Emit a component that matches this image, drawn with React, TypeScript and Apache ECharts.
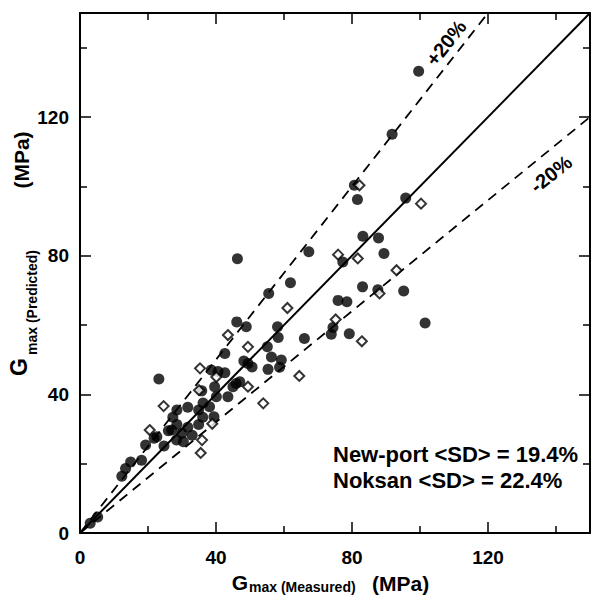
import React, { useEffect, useRef } from 'react';
import * as echarts from 'echarts';

const axisMin = 0;
const axisMax = 150;
const tickInterval = 40;

// Filled circles (New-port)
const newportPoints: [number, number][] = [
  [99.6, 133.2], [91.8, 115.0], [80.7, 100.3], [81.6, 96.2], [95.8, 96.6],
  [83.2, 85.6], [87.8, 85.1], [89.4, 80.6], [67.3, 81.1], [77.3, 78.2],
  [46.3, 79.1], [95.2, 69.8], [101.5, 60.6], [61.9, 72.2], [83.1, 71.0],
  [87.6, 70.2], [55.5, 69.1], [75.9, 67.1], [78.5, 66.7], [46.1, 60.9],
  [48.9, 59.5], [74.4, 59.3], [73.9, 57.3], [79.2, 57.5], [58.1, 59.5],
  [58.3, 56.4], [66.0, 56.1], [55.1, 53.7], [56.3, 50.8], [59.2, 49.9],
  [49.4, 48.9], [48.2, 49.6], [50.6, 47.9], [55.3, 47.2], [58.7, 47.8],
  [42.6, 51.8], [47.0, 43.6], [23.2, 44.4], [38.6, 47.0], [42.6, 46.2],
  [40.6, 46.6], [35.8, 41.0], [39.6, 42.2], [40.1, 39.3], [43.5, 39.3],
  [45.0, 42.2], [45.9, 43.1], [39.4, 33.5],
  [27.3, 33.4], [28.5, 35.5], [31.7, 36.3], [34.9, 35.5], [36.1, 33.4],
  [34.9, 31.3], [31.7, 30.5], [28.5, 31.3],
  [36.2, 37.5], [38.1, 36.4], [30.0, 28.8], [28.4, 26.8], [30.4, 26.3],
  [33.0, 28.2], [26.0, 29.5], [27.0, 29.7], [24.7, 25.1], [19.3, 25.4],
  [21.8, 27.3], [22.6, 27.8], [18.1, 21.0], [14.9, 20.5], [13.4, 18.6],
  [12.3, 16.4], [3.0, 2.8], [5.2, 4.6],
];

// Open diamonds (Noksan)
const noksanPoints: [number, number][] = [
  [82.2, 100.3], [100.3, 95.0], [75.9, 80.3], [81.7, 79.2], [93.1, 75.8],
  [88.1, 69.1], [61.0, 64.9], [75.2, 61.6], [82.9, 55.3], [43.5, 57.1],
  [49.4, 53.7], [64.5, 45.3], [35.3, 47.5], [40.1, 45.0], [49.4, 42.2],
  [35.0, 41.2], [53.9, 37.4], [24.6, 36.6], [38.9, 31.5], [20.5, 29.7],
  [35.9, 26.8], [35.5, 23.1],
];

const equalityLine: [number, number][] = [[0, 0], [150, 150]];
const plus20Line: [number, number][] = [[0, 0], [120, 150]];
const minus20Line: [number, number][] = [[0, 0], [150, 120]];

const plusLabel = '+20%';
const minusLabel = '-20%';
const newportLabel = 'New-port <SD> = 19.4%';
const noksanLabel = 'Noksan <SD> = 22.4%';
const xNameMain = 'G';
const xNameSub = 'max (Measured)';
const xNameUnit = '(MPa)';
const yNameMain = 'G';
const yNameSub = 'max (Predicted)';
const yNameUnit = '(MPa)';

const FONT = "'Liberation Sans', Arial, Helvetica, sans-serif";

function txt(text: string, x: number, y: number, size: number, align: string, vAlign: string, rotation = 0) {
  return {
    type: 'text',
    x,
    y,
    rotation,
    z: 100,
    style: {
      text,
      fill: '#000',
      fontSize: size,
      fontWeight: 'bold',
      fontFamily: FONT,
      align,
      verticalAlign: vAlign,
      textAlign: align,
      textVerticalAlign: vAlign,
    },
  };
}

export default function App() {
  const ref = useRef<HTMLDivElement>(null);

  useEffect(() => {
    if (!ref.current) return;
    const chart = echarts.init(ref.current, null, { renderer: 'svg' });

    const axisCommon = {
      type: 'value',
      min: axisMin,
      max: axisMax,
      interval: tickInterval,
      axisLine: { show: true, onZero: false, lineStyle: { color: '#000', width: 2 } },
      axisTick: { show: true, inside: true, length: 11, lineStyle: { color: '#000', width: 1.5 } },
      minorTick: { show: true, splitNumber: 2, length: 7, lineStyle: { color: '#000', width: 1.5 } },
      splitLine: { show: false },
      minorSplitLine: { show: false },
    };
    const labelBase = {
      show: true,
      showMaxLabel: false,
      fontSize: 19,
      fontWeight: 'bold',
      fontFamily: FONT,
      color: '#000',
    };

    chart.setOption({
      animation: false,
      backgroundColor: '#fff',
      grid: { left: 80, top: 13, width: 510, height: 520, containLabel: false },
      xAxis: [
        { ...axisCommon, position: 'bottom', axisLabel: { ...labelBase, margin: 15 } },
        { ...axisCommon, position: 'top', axisLabel: { show: false } },
      ],
      yAxis: [
        { ...axisCommon, position: 'left', axisLabel: { ...labelBase, margin: 11 } },
        { ...axisCommon, position: 'right', axisLabel: { show: false } },
      ],
      series: [
        {
          type: 'line',
          data: equalityLine,
          symbol: 'none',
          lineStyle: { color: '#000', width: 2 },
          z: 2,
        },
        {
          type: 'line',
          data: plus20Line,
          symbol: 'none',
          lineStyle: { color: '#000', width: 1.8, type: [10, 7] },
          z: 2,
        },
        {
          type: 'line',
          data: minus20Line,
          symbol: 'none',
          lineStyle: { color: '#000', width: 1.8, type: [10, 7] },
          z: 2,
        },
        {
          type: 'scatter',
          name: 'New-port',
          data: newportPoints,
          symbol: 'circle',
          symbolSize: 11,
          itemStyle: { color: '#000' },
          z: 3,
        },
        {
          type: 'scatter',
          name: 'Noksan',
          data: noksanPoints,
          symbol: 'diamond',
          symbolSize: 10,
          itemStyle: { color: '#fff', borderColor: '#000', borderWidth: 2 },
          z: 4,
        },
      ],
      graphic: [
        txt(plusLabel, 446, 43, 20, 'center', 'middle', 0.9),
        txt(minusLabel, 551, 174, 20, 'center', 'middle', 0.67),
        txt(newportLabel, 333, 454, 22, 'left', 'middle'),
        txt(noksanLabel, 333, 480, 22, 'left', 'middle'),
        txt(xNameMain, 240, 582, 21, 'center', 'middle'),
        txt(xNameSub, 249, 587, 14, 'left', 'middle'),
        txt(xNameUnit, 372, 583, 21, 'left', 'middle'),
        txt(yNameMain, 19, 367, 23, 'center', 'middle', Math.PI / 2),
        txt(yNameSub, 32, 355, 14, 'left', 'middle', Math.PI / 2),
        txt(yNameUnit, 21, 160, 21, 'center', 'middle', Math.PI / 2),
      ],
    });

    return () => chart.dispose();
  }, []);

  return (
    <div
      ref={ref}
      style={{ position: 'absolute', left: 0, top: 0, width: 592, height: 596, background: '#fff' }}
    />
  );
}
